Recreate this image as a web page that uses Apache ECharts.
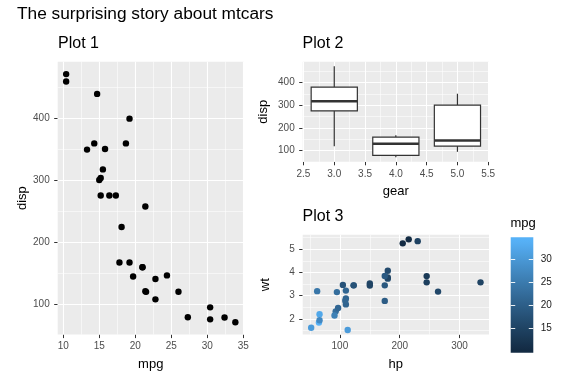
<!DOCTYPE html>
<html>
<head>
<meta charset="utf-8">
<script src="https://cdn.jsdelivr.net/npm/echarts@6/dist/echarts.min.js"></script>
<style>
html,body{margin:0;padding:0;background:#fff;}
#chart{width:576px;height:384px;}
</style>
</head>
<body>
<div id="chart"></div>
<script>
// ---- mtcars data ----
const mpg  = [21.0,21.0,22.8,21.4,18.7,18.1,14.3,24.4,22.8,19.2,17.8,16.4,17.3,15.2,10.4,10.4,14.7,32.4,30.4,33.9,21.5,15.5,15.2,13.3,19.2,27.3,26.0,30.4,15.8,19.7,15.0,21.4];
const disp = [160,160,108,258,360,225,360,146.7,140.8,167.6,167.6,275.8,275.8,275.8,472,460,440,78.7,75.7,71.1,120.1,318,304,350,400,79,120.3,95.1,351,145,301,121];
const hp   = [110,110,93,110,175,105,245,62,95,123,123,180,180,180,205,215,230,66,52,65,97,150,150,245,175,66,91,113,264,175,335,109];
const wt   = [2.62,2.875,2.32,3.215,3.44,3.46,3.57,3.19,3.15,3.44,3.44,4.07,3.73,3.78,5.25,5.424,5.345,2.2,1.615,1.835,2.465,3.52,3.435,3.84,3.845,1.935,2.14,1.513,3.17,2.77,3.57,2.78];
const gear = [4,4,4,3,3,3,3,4,4,4,4,3,3,3,3,3,3,4,4,4,3,3,3,3,3,4,5,5,5,5,5,4];
const gearLevels = [3,4,5];

// ---- tick breaks ----
const p1xTicks = [10,15,20,25,30,35],  p1xMinor = [12.5,17.5,22.5,27.5,32.5];
const p1yTicks = [100,200,300,400],    p1yMinor = [150,250,350,450];
const p2xTicks = [2.5,3,3.5,4,4.5,5,5.5], p2xMinor = [2.75,3.25,3.75,4.25,4.75,5.25];
const p2yTicks = [100,200,300,400],    p2yMinor = [150,250,350,450];
const p3xTicks = [100,200,300],        p3xMinor = [50,150,250];
const p3yTicks = [2,3,4,5],            p3yMinor = [1.5,2.5,3.5,4.5,5.5];
const cbTicks  = [15,20,25,30];

// ---- helpers ----
const BOX_W = 0.75;
function expand(lo, hi){ const d=(hi-lo)*0.05; return [lo-d, hi+d]; }
function minOf(a){ return Math.min.apply(null,a); }
function maxOf(a){ return Math.max.apply(null,a); }
function quant(s,p){ const h=(s.length-1)*p, lo=Math.floor(h); const hiV = s[Math.min(lo+1,s.length-1)]; return s[lo]+(h-lo)*(hiV-s[lo]); }
function boxStats(vals){
  const s=vals.slice().sort((a,b)=>a-b);
  const q1=quant(s,0.25), med=quant(s,0.5), q3=quant(s,0.75), iqr=q3-q1;
  const inl=s.filter(v=>v>=q1-1.5*iqr && v<=q3+1.5*iqr);
  return [minOf(inl), q1, med, q3, maxOf(inl)];
}
const boxData = gearLevels.map(g => [g].concat(boxStats(disp.filter((d,i)=>gear[i]===g))));

// Lab colour interpolation (ggplot gradient #132B43 -> #56B1F7)
function hex2rgb(h){ return [1,3,5].map(i=>parseInt(h.substr(i,2),16)); }
function toLin(c){ c/=255; return c<=0.04045? c/12.92 : Math.pow((c+0.055)/1.055,2.4); }
function fromLin(c){ const v=c<=0.0031308?12.92*c:1.055*Math.pow(c,1/2.4)-0.055; return Math.round(Math.max(0,Math.min(1,v))*255); }
const Wn=[0.95047,1,1.08883];
function rgb2lab(rgb){
  const [r,g,b]=rgb.map(toLin);
  const X=(0.4124564*r+0.3575761*g+0.1804375*b)/Wn[0], Y=(0.2126729*r+0.7151522*g+0.0721750*b)/Wn[1], Z=(0.0193339*r+0.1191920*g+0.9503041*b)/Wn[2];
  const f=t=>t>0.008856?Math.cbrt(t):7.787*t+16/116;
  const fx=f(X),fy=f(Y),fz=f(Z);
  return [116*fy-16, 500*(fx-fy), 200*(fy-fz)];
}
function lab2rgb(lab){
  const fy=(lab[0]+16)/116, fx=fy+lab[1]/500, fz=fy-lab[2]/200;
  const fi=t=>{const t3=t*t*t; return t3>0.008856?t3:(t-16/116)/7.787;};
  const X=fi(fx)*Wn[0], Y=fi(fy)*Wn[1], Z=fi(fz)*Wn[2];
  const r= 3.2404542*X-1.5371385*Y-0.4985314*Z, g=-0.9692660*X+1.8760108*Y+0.0415560*Z, b=0.0556434*X-0.2040259*Y+1.0572252*Z;
  return [fromLin(r),fromLin(g),fromLin(b)];
}
const LAB_LO=rgb2lab(hex2rgb('#132B43')), LAB_HI=rgb2lab(hex2rgb('#56B1F7'));
const MPG_MIN=minOf(mpg), MPG_MAX=maxOf(mpg);
function mpgColor(v){
  let t=(v-MPG_MIN)/(MPG_MAX-MPG_MIN); t=Math.max(0,Math.min(1,t));
  const lab=LAB_LO.map((c,i)=>c+(LAB_HI[i]-c)*t);
  const rgb=lab2rgb(lab); return 'rgb('+rgb.join(',')+')';
}

// ---- extents ----
const p1x = expand(minOf(mpg), maxOf(mpg));
const p1y = expand(minOf(disp), maxOf(disp));
const p2x = expand(gearLevels[0]-BOX_W/2, gearLevels[2]+BOX_W/2);
const p2y = expand(minOf(boxData.map(b=>b[1])), maxOf(boxData.map(b=>b[5])));
const p3x = expand(minOf(hp), maxOf(hp));
const p3y = expand(minOf(wt), maxOf(wt));
const cbRange = [9.83, 34.68];

const FONT='Liberation Sans';
const TICK_COL='#4D4D4D', LINE_COL='#333333';

function mkAxis(gi, type, ext, ticks, opts){
  opts=opts||{};
  const isX = type==='x';
  return Object.assign({
    type:'value', gridIndex:gi, min:ext[0], max:ext[1],
    position: isX?'bottom':'left',
    splitLine:{show:false}, axisLine:{show:false},
    axisTick:{show:true, customValues:ticks, length:3.5, lineStyle:{color:LINE_COL,width:1}},
    axisLabel:{show:true, customValues:ticks, color:TICK_COL, fontSize:10, fontFamily:FONT, margin: isX?7:8,
      formatter: opts.fmt || (v=>String(v))},
    nameLocation:'middle', nameGap: opts.gap||20,
    nameTextStyle:{fontSize:13, color:'#000', fontFamily:FONT},
    name: opts.name||''
  }, opts.extra||{});
}
function gridLines(xi, yi, xs, ys, width){
  return {
    type:'line', xAxisIndex:xi, yAxisIndex:yi, data:[], silent:true, z:1,
    markLine:{silent:true, symbol:['none','none'], animation:false, z:1,
      label:{show:false}, emphasis:{disabled:true},
      lineStyle:{color:'#FFFFFF', width:width, type:'solid', opacity:1},
      data: xs.map(v=>({xAxis:v})).concat(ys.map(v=>({yAxis:v})))}
  };
}

const cbStops=[];
for(let i=0;i<=40;i++){
  const v = cbRange[1] - (cbRange[1]-cbRange[0])*i/40;
  cbStops.push({offset:i/40, color:mpgColor(v)});
}

const chart = echarts.init(document.getElementById('chart'), null, {renderer:'canvas'});
const titleStyle={fontSize:16, fontWeight:'normal', color:'#000', fontFamily:FONT};
chart.setOption({
  animation:false,
  textStyle:{fontFamily:FONT},
  title:[
    {text:'The surprising story about mtcars', left:17, top:6, padding:0, textStyle:Object.assign({}, titleStyle, {fontSize:17.3})},
    {text:'Plot 1', left:58, top:36, padding:0, textStyle:titleStyle},
    {text:'Plot 2', left:302.5, top:36, padding:0, textStyle:titleStyle},
    {text:'Plot 3', left:302.5, top:209, padding:0, textStyle:titleStyle},
    {text:'mpg', left:510.5, top:217, padding:0, textStyle:{fontSize:13, fontWeight:'normal', color:'#000', fontFamily:FONT}}
  ],
  grid:[
    {left:57.7, top:61.7, width:186.1, height:272.9, show:true, backgroundColor:'#EBEBEB', borderWidth:0},
    {left:302.7, top:61.7, width:186.3, height:100.1, show:true, backgroundColor:'#EBEBEB', borderWidth:0},
    {left:302.7, top:234.8, width:186.3, height:99.8, show:true, backgroundColor:'#EBEBEB', borderWidth:0},
    {left:510.7, top:237.3, width:22.6, height:115.4, show:true, borderWidth:0,
      backgroundColor:{type:'linear', x:0, y:0, x2:0, y2:1, colorStops:cbStops}}
  ],
  xAxis:[
    mkAxis(0,'x',p1x,p1xTicks,{name:'mpg', gap:23}),
    mkAxis(1,'x',p2x,p2xTicks,{name:'gear', gap:23, fmt:v=>v.toFixed(1)}),
    mkAxis(2,'x',p3x,p3xTicks,{name:'hp', gap:23}),
    {type:'value', gridIndex:3, min:0, max:1, show:false}
  ],
  yAxis:[
    mkAxis(0,'y',p1y,p1yTicks,{name:'disp', gap:29}),
    mkAxis(1,'y',p2y,p2yTicks,{name:'disp', gap:33}),
    mkAxis(2,'y',p3y,p3yTicks,{name:'wt', gap:31}),
    {type:'value', gridIndex:3, min:cbRange[0], max:cbRange[1], position:'right',
      splitLine:{show:false}, axisLine:{show:false}, axisTick:{show:false},
      axisLabel:{customValues:cbTicks, color:'#1A1A1A', fontSize:10, fontFamily:FONT, margin:7.4}}
  ],
  series:[
    gridLines(0,0,p1xMinor,p1yMinor,0.55),
    gridLines(0,0,p1xTicks,p1yTicks,1.1),
    gridLines(1,1,p2xMinor,p2yMinor,0.55),
    gridLines(1,1,p2xTicks,p2yTicks,1.1),
    gridLines(2,2,p3xMinor,p3yMinor,0.55),
    gridLines(2,2,p3xTicks,p3yTicks,1.1),
    {
      type:'scatter', xAxisIndex:0, yAxisIndex:0, z:10, silent:true,
      symbol:'circle', symbolSize:6.4, itemStyle:{color:'#000', opacity:1},
      data: mpg.map((m,i)=>[m, disp[i]])
    },
    {
      type:'custom', xAxisIndex:1, yAxisIndex:1, z:10, silent:true,
      encode:{x:0, y:[1,2,3,4,5]},
      data: boxData,
      renderItem:function(params, api){
        const x=api.value(0), hw=BOX_W/2;
        const pMin=api.coord([x, api.value(1)]);
        const pQ1L=api.coord([x-hw, api.value(2)]);
        const pMedL=api.coord([x-hw, api.value(3)]);
        const pMedR=api.coord([x+hw, api.value(3)]);
        const pQ3R=api.coord([x+hw, api.value(4)]);
        const pMax=api.coord([x, api.value(5)]);
        const st={stroke:LINE_COL, lineWidth:1.2};
        return {type:'group', children:[
          {type:'line', shape:{x1:pMin[0],y1:pMin[1],x2:pMin[0],y2:pQ1L[1]}, style:st},
          {type:'line', shape:{x1:pMax[0],y1:pMax[1],x2:pMax[0],y2:pQ3R[1]}, style:st},
          {type:'rect', shape:{x:pQ1L[0], y:pQ3R[1], width:pQ3R[0]-pQ1L[0], height:pQ1L[1]-pQ3R[1]}, style:{fill:'#FFFFFF', stroke:LINE_COL, lineWidth:1.2}},
          {type:'line', shape:{x1:pMedL[0],y1:pMedL[1],x2:pMedR[0],y2:pMedR[1]}, style:{stroke:LINE_COL, lineWidth:2.4}}
        ]};
      }
    },
    {
      type:'scatter', xAxisIndex:2, yAxisIndex:2, z:10, silent:true,
      symbol:'circle', symbolSize:6.4,
      itemStyle:{opacity:1, color:function(p){ return mpgColor(p.value[2]); }},
      data: hp.map((h,i)=>[h, wt[i], mpg[i]])
    },
    {
      type:'line', xAxisIndex:3, yAxisIndex:3, data:[], silent:true, z:5,
      markLine:{silent:true, symbol:['none','none'], animation:false, z:5, label:{show:false},
        lineStyle:{color:'#FFFFFF', width:1, type:'solid', opacity:0.9},
        data: cbTicks.map(v=>[{coord:[0,v]},{coord:[0.2,v]}]).concat(cbTicks.map(v=>[{coord:[0.8,v]},{coord:[1,v]}]))}
    }
  ]
});
</script>
</body>
</html>
